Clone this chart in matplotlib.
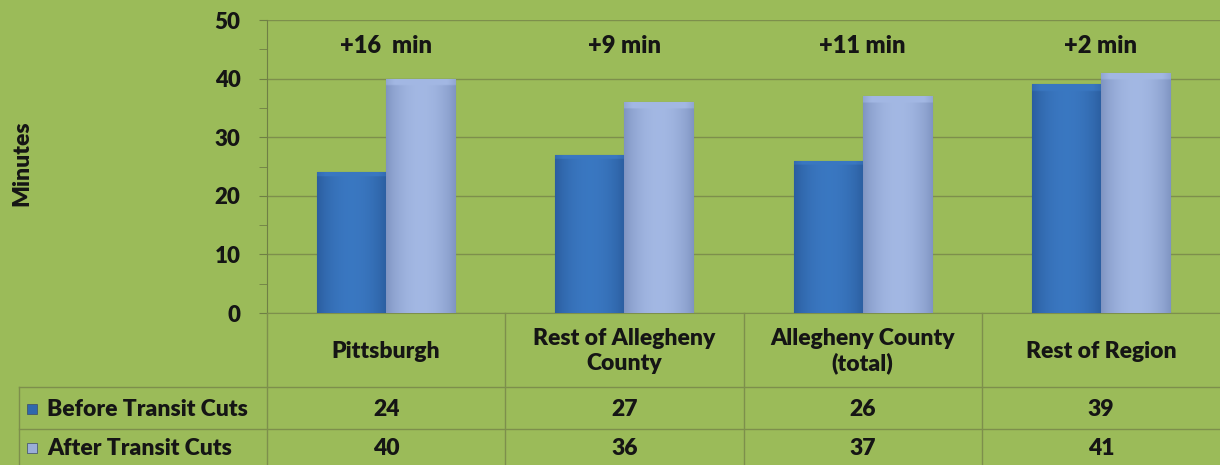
import numpy as np
import matplotlib
matplotlib.use("Agg")
import matplotlib.pyplot as plt
from matplotlib import transforms
from matplotlib.colors import LinearSegmentedColormap
from matplotlib.lines import Line2D

# data
categories = ["Pittsburgh", "Rest of Allegheny\nCounty", "Allegheny County\n(total)", "Rest of Region"]
before = [24, 27, 26, 39]
after = [40, 36, 37, 41]
diff_labels = ["+16  min", "+9 min", "+11 min", "+2 min"]
series_names = ["Before Transit Cuts", "After Transit Cuts"]

BG = "#9bbb59"
GRID = "#7d8f4c"
TXT = "#151515"
WT = "heavy"
plt.rcParams["font.family"] = ["Lato", "DejaVu Sans"]
plt.rcParams["font.weight"] = WT

W, H = 1220, 465
fig = plt.figure(figsize=(W / 100, H / 100), dpi=100, facecolor=BG)
ax = fig.add_axes([267 / W, 1 - 313 / H, 1 - 267 / W, (313 - 20) / H])
ax.set_facecolor(BG)

x = np.arange(len(categories))
bw = 0.29

def grad_bar(xs, vals, dark, light, zorder):
    cmap = LinearSegmentedColormap.from_list("g", [dark, light])
    bars = ax.bar(xs, vals, bw, color=light, edgecolor=dark, linewidth=0.8, zorder=zorder)
    prof = np.sin(np.linspace(0.15, np.pi - 0.15, 60)) ** 0.6
    img = np.tile(prof, (100, 1))
    img[:3, :] = np.minimum(img[:3, :] + 0.35, 1.0)
    for b in bars:
        x0, y0 = b.get_x(), b.get_y()
        im = ax.imshow(img, extent=[x0, x0 + b.get_width(), y0, y0 + b.get_height()],
                       aspect="auto", cmap=cmap, vmin=0, vmax=1.1, origin="upper",
                       zorder=zorder + 0.1)
        im.set_clip_path(b)
    return bars

grad_bar(x - bw / 2, before, "#245290", "#3c7bc6", 3)
grad_bar(x + bw / 2, after, "#6f84b3", "#a8bde8", 3)

ax.set_xlim(-0.5, len(categories) - 0.5)
ax.set_ylim(0, 50)
ax.set_yticks(range(0, 51, 10))
ax.set_yticks(range(5, 50, 10), minor=True)
ax.yaxis.grid(True, color=GRID, linewidth=1.0, zorder=0)
ax.set_axisbelow(True)
ax.tick_params(axis="y", which="major", length=6, color="#6f7f45", labelsize=16, pad=13,
               labelcolor=TXT)
ax.tick_params(axis="y", which="minor", length=6, color="#6f7f45")
ax.tick_params(axis="x", length=0, labelbottom=False)
for lab in ax.get_yticklabels():
    lab.set_fontweight(WT)
for s in ["top", "right"]:
    ax.spines[s].set_visible(False)
ax.spines["left"].set_color("#6f7f45")
ax.spines["bottom"].set_color(GRID)

for xi, t in zip(x, diff_labels):
    ax.text(xi, 45.5, t, ha="center", va="center", fontsize=17, fontweight=WT, color=TXT)

fig.text(22 / W, 1 - 163 / H, "Minutes", rotation=90, ha="center", va="center",
         fontsize=16.5, fontweight=WT, color=TXT)

# data table below the axes
bt = transforms.blended_transform_factory(ax.transData, fig.transFigure)
def fy(py):
    return 1 - py / H

for xb in np.arange(-0.5, len(categories) - 0.5, 1.0):
    fig.add_artist(Line2D([xb, xb], [fy(313), 0], transform=bt, color=GRID, lw=1))
for py in [387, 429]:
    fig.add_artist(Line2D([19 / W, 1], [fy(py), fy(py)], transform=fig.transFigure,
                          color=GRID, lw=1))
fig.add_artist(Line2D([19 / W, 19 / W], [fy(387), 0], transform=fig.transFigure,
                      color=GRID, lw=1))

for xi, c in zip(x, categories):
    fig.text(xi, fy(351), c, transform=bt, ha="center", va="center", fontsize=16.5,
             fontweight=WT, linespacing=1.2, color=TXT)

row_y = [fy(409), fy(448)]
marker_cols = ["#2f68ad", "#9aaed8"]
for ry, name, vals, mc in zip(row_y, series_names, [before, after], marker_cols):
    fig.text(47 / W, ry, name, ha="left", va="center", fontsize=16.5, fontweight=WT,
             color=TXT)
    fig.patches.append(plt.Rectangle((27 / W, ry - 5 / H), 10 / W, 10 / H,
                                     transform=fig.transFigure, facecolor=mc,
                                     edgecolor="#3a4a6a", lw=0.5))
    for xi, v in zip(x, vals):
        fig.text(xi, ry, str(v), transform=bt, ha="center", va="center", fontsize=16.5,
                 fontweight=WT, color=TXT)

fig.savefig("out.png", dpi=100, facecolor=BG)
